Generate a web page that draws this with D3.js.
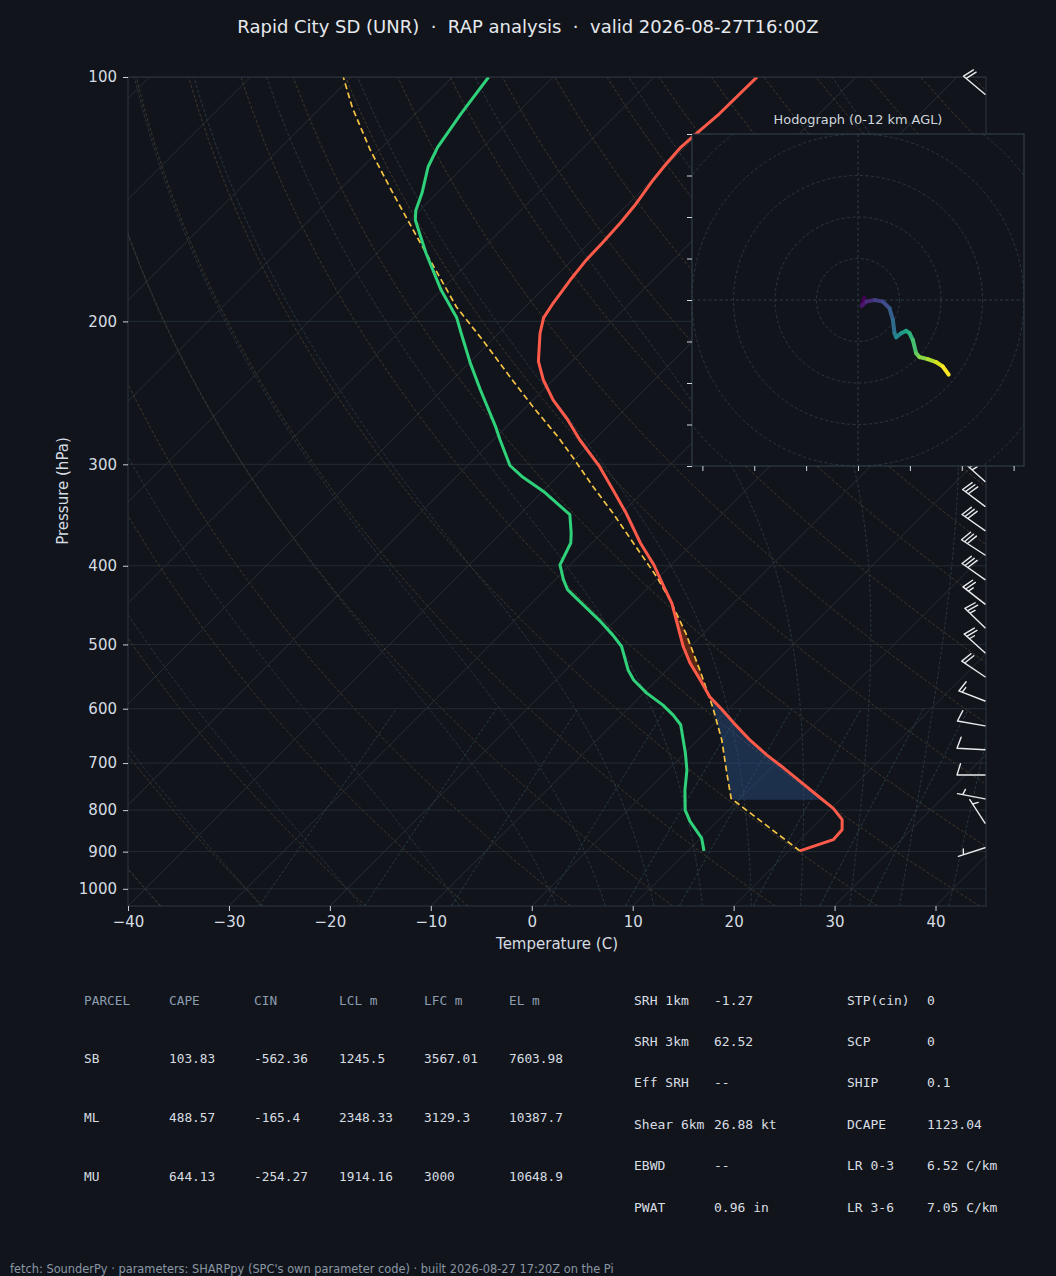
<!DOCTYPE html>
<html>
<head>
<meta charset="utf-8">
<script src="https://cdn.jsdelivr.net/npm/d3@7"></script>
<style>
  body { margin: 0; background: #11151b; }
  svg { display: block; }
</style>
</head>
<body>
<svg id="chart"></svg>
<script>
const WIDTH = 1056;
const HEIGHT = 1276;
const BG = "#11151b";

// ---- sounding ----
const tempP = [898, 870, 846, 822, 796, 773, 738, 710, 684, 656, 625, 599, 580, 553, 527, 503, 471, 445, 424, 399,
               375, 345, 323, 302, 280, 264, 250, 236, 224, 207, 198, 190, 178, 168, 160, 151, 144, 134, 128, 122, 117, 111, 100];
const tempC = [21.1, 23.3, 23.2, 22.2, 20.2, 17.9, 14.3, 11.3, 8.3, 5.2, 1.9, -0.9, -3.1, -5.7, -8.4, -10.7, -13.6, -16.1, -18.6, -21.7,
               -25.2, -29.5, -33.1, -36.8, -41.4, -44.7, -48.0, -51.0, -53.3, -55.9, -57.1, -57.6, -58.2, -58.6, -58.7, -58.9, -59.2, -59.9, -60.2, -60.4, -60.2, -59.9, -59.8];

const dewP = [898, 866, 826, 800, 756, 714, 681, 628, 611, 594, 574, 553, 538, 503, 487, 467, 439, 428, 416, 399, 375,
              365, 346, 324, 311, 301, 280, 270, 243, 225, 207, 198, 183, 165, 157, 150, 146, 139, 129, 122, 111, 100];
const dewC = [11.6, 10.1, 7.3, 5.7, 3.7, 1.9, 0.1, -3.2, -4.9, -6.9, -9.7, -12.3, -13.8, -16.8, -18.8, -21.6, -26.0, -27.8, -29.2, -31.0, -32.1,
              -33.0, -35.0, -39.9, -43.4, -45.8, -49.3, -51.0, -56.2, -59.9, -63.7, -65.7, -70.0, -75.1, -77.4, -79.5, -80.4, -81.5, -83.5, -84.5, -85.5, -86.4];

const parcelP = [898, 774, 721, 656, 597, 538, 484, 441, 413, 375, 345, 320, 294, 277, 255, 234, 211, 192, 159, 140, 123, 109, 100];
const parcelC = [21.1, 9.1, 6.2, 2.4, -1.8, -6.7, -11.8, -16.6, -20.2, -25.9, -30.8, -35.4, -40.4, -44.0, -49.3, -54.6, -60.9, -66.8, -77.1, -84.0, -90.9, -96.9, -100.8];

const lclP = 777;   // bottom of the CIN shade
const lfcP = 570;   // parcel / environment crossing
const capeTopP = 442;

// wind barbs (hPa, deg from, kt)
const barbP   = [890, 830, 775, 724, 674, 630, 587, 548, 512, 477, 446, 416, 388, 362, 338, 315, 105];
const barbDir = [252, 327, 281, 270, 273, 280, 291, 304, 312, 314, 308, 305, 303, 305, 307, 312, 310];
const barbSpd = [5, 5, 5, 10, 10, 10, 15, 20, 25, 25, 25, 30, 30, 30, 30, 35, 20];

// hodograph 0-12 km (kt)
const hodoU = [3.0, 1.8, 4.0, 8.0, 12.0, 15.2, 16.8, 17.6, 18.4, 20.8, 23.2, 24.8, 26.4, 28.0, 29.6, 33.6, 37.6, 40.8, 43.7];
const hodoV = [1.0, -2.8, -0.8, 0.0, -0.8, -4.0, -9.6, -16.0, -17.9, -16.0, -14.9, -16.0, -19.2, -25.6, -27.5, -28.5, -29.9, -32.0, -36.0];

// axes ticks
const pTicks = [100, 200, 300, 400, 500, 600, 700, 800, 900, 1000];
const tTicks = [-40, -30, -20, -10, 0, 10, 20, 30, 40];
const hodoXTicks = [-75, -50, -25, 0, 25, 50, 75];
const hodoYTicks = [-80, -60, -40, -20, 0, 20, 40, 60, 80];
const hodoRings = [20, 40, 60, 80, 100];

// parameter table
const tblHeader = ["PARCEL", "CAPE", "CIN", "LCL m", "LFC m", "EL m"];
const parcelNames = ["SB", "ML", "MU"];
const capeVals = [103.83, 488.57, 644.13];
const cinVals = [-562.36, -165.4, -254.27];
const lclVals = [1245.5, 2348.33, 1914.16];
const lfcVals = [3567.01, 3129.3, 3000];
const elVals = [7603.98, 10387.7, 10648.9];

const kinNames = ["SRH 1km", "SRH 3km", "Eff SRH", "Shear 6km", "EBWD", "PWAT"];
const kinVals = ["-1.27", "62.52", "--", "26.88 kt", "--", "0.96 in"];
const compNames = ["STP(cin)", "SCP", "SHIP", "DCAPE", "LR 0-3", "LR 3-6"];
const compVals = ["0", "0", "0.1", "1123.04", "6.52 C/km", "7.05 C/km"];

// ---- layout ----
const PLOT = {left: 128, right: 986, top: 77, bottom: 906};
const HODO = {left: 692, right: 1024, top: 134, bottom: 466};

var svg = d3.select("#chart")
    .attr("width", WIDTH)
    .attr("height", HEIGHT)
    .style("font-family", "DejaVu Sans");

svg.append("rect").attr("width", WIDTH).attr("height", HEIGHT).attr("fill", BG);

var defs = svg.append("defs");
defs.append("clipPath").attr("id", "plotClip").append("rect")
    .attr("x", PLOT.left).attr("y", PLOT.top)
    .attr("width", PLOT.right - PLOT.left).attr("height", PLOT.bottom - PLOT.top);
defs.append("clipPath").attr("id", "hodoClip").append("rect")
    .attr("x", HODO.left).attr("y", HODO.top)
    .attr("width", HODO.right - HODO.left).attr("height", HODO.bottom - HODO.top);

const x = d3.scaleLinear().domain([-40, 45]).range([PLOT.left, PLOT.right]);
const y = d3.scaleLog().domain([1050, 100]).range([PLOT.bottom, PLOT.top]);
const skewX = (t, p) => x(t) + (PLOT.bottom - y(p));

const line = d3.line()
    .x(d => skewX(d.t, d.p))
    .y(d => y(d.p));

const zipProfile = (ps, ts) => ps.map((p, i) => ({p: p, t: ts[i]}));

// ---- background reference lines ----
var bg = svg.append("g").attr("clip-path", "url(#plotClip)");

// pressure grid
bg.selectAll(".pgrid").data(pTicks).join("line")
    .attr("x1", PLOT.left).attr("x2", PLOT.right)
    .attr("y1", d => y(d)).attr("y2", d => y(d))
    .attr("stroke", "#262e38").attr("stroke-width", 0.9);

// isotherms
bg.selectAll(".iso").data(d3.range(-130, 50, 10)).join("line")
    .attr("x1", d => skewX(d, 1050)).attr("y1", y(1050))
    .attr("x2", d => skewX(d, 100)).attr("y2", y(100))
    .attr("stroke", "#2a3038").attr("stroke-width", 0.9);

// dry adiabats (theta referenced to 1000 hPa)
const KAPPA = 0.2857;
const pCurve = d3.range(1050, 99, -10);
d3.range(-40, 241, 10).forEach(t0 => {
    let pts = pCurve.map(p => ({p: p, t: (t0 + 273.15) * Math.pow(p / 1000, KAPPA) - 273.15}));
    bg.append("path")
        .attr("d", line(pts))
        .attr("fill", "none")
        .attr("stroke", "#453a2c")
        .attr("stroke-width", 0.9)
        .attr("stroke-dasharray", "3,2");
});

// moist adiabats
const RD = 287.04749, CPD = 1004.6662, LV = 2.50084e6, EPS = 0.6219569;
function moistSlope(T, p) {
    let es = 6.112 * Math.exp(17.67 * (T - 273.15) / (T - 29.65));
    let rs = EPS * es / Math.max(p - es, 1);
    return (RD * T + LV * rs) / (CPD + LV * LV * rs * EPS / (RD * T * T)) / p;
}
function integrateMoist(t0, pStart, pEnd, dp) {
    let T = t0 + 273.15, p = pStart, out = [{p: p, t: t0}];
    while ((dp < 0 && p + dp >= pEnd - 1e-6) || (dp > 0 && p + dp <= pEnd + 1e-6)) {
        let k1 = moistSlope(T, p);
        let k2 = moistSlope(T + k1 * dp / 2, p + dp / 2);
        let k3 = moistSlope(T + k2 * dp / 2, p + dp / 2);
        let k4 = moistSlope(T + k3 * dp, p + dp);
        T += dp * (k1 + 2 * k2 + 2 * k3 + k4) / 6;
        p += dp;
        out.push({p: p, t: T - 273.15});
    }
    return out;
}
const moistT0 = d3.range(-40, 0, 10).concat(d3.range(0, 96, 5));
moistT0.forEach(t0 => {
    let up = integrateMoist(t0, 1000, 100, -5);
    let down = integrateMoist(t0, 1000, 1050, 5).reverse();
    bg.append("path")
        .attr("d", line(down.concat(up.slice(1))))
        .attr("fill", "none")
        .attr("stroke", "#2c3844")
        .attr("stroke-width", 0.9)
        .attr("stroke-dasharray", "3,2");
});

// mixing ratio lines
const mixW = [0.0004, 0.001, 0.002, 0.004, 0.007, 0.01, 0.016, 0.024, 0.032];
mixW.forEach(w => {
    let pts = d3.range(1050, 599, -10).map(p => {
        let e = p * w / (EPS + w);
        let l = Math.log(e / 6.112);
        return {p: p, t: 243.5 * l / (17.67 - l)};
    });
    bg.append("path")
        .attr("d", line(pts))
        .attr("fill", "none")
        .attr("stroke", "#28404a")
        .attr("stroke-width", 0.9)
        .attr("stroke-dasharray", "3,2");
});

// ---- CIN / CAPE shading ----
function interpT(ps, ts, p) {
    for (let i = 0; i < ps.length - 1; i++) {
        if (p <= ps[i] && p >= ps[i + 1]) {
            let f = Math.log(ps[i] / p) / Math.log(ps[i] / ps[i + 1]);
            return ts[i] + f * (ts[i + 1] - ts[i]);
        }
    }
    return ts[ts.length - 1];
}
function shadeBetween(pBot, pTop, color, opacity) {
    let ps = d3.range(pBot, pTop, -2).concat([pTop]);
    let area = d3.area()
        .y(p => y(p))
        .x0(p => skewX(interpT(parcelP, parcelC, p), p))
        .x1(p => skewX(interpT(tempP, tempC, p), p));
    svg.append("path")
        .attr("clip-path", "url(#plotClip)")
        .attr("d", area(ps))
        .attr("fill", color)
        .attr("fill-opacity", opacity);
}
shadeBetween(lclP, lfcP, "#2f5a9a", 0.38);
shadeBetween(lfcP, capeTopP, "#c2410c", 0.42);

// ---- profiles ----
var prof = svg.append("g").attr("clip-path", "url(#plotClip)");
prof.append("path")
    .attr("d", line(zipProfile(parcelP, parcelC)))
    .attr("fill", "none")
    .attr("stroke", "#f6c344")
    .attr("stroke-width", 1.7)
    .attr("stroke-dasharray", "6,3.5");
prof.append("path")
    .attr("d", line(zipProfile(dewP, dewC)))
    .attr("fill", "none")
    .attr("stroke", "#2fd27a")
    .attr("stroke-width", 3)
    .attr("stroke-linejoin", "round");
prof.append("path")
    .attr("d", line(zipProfile(tempP, tempC)))
    .attr("fill", "none")
    .attr("stroke", "#ff5a4a")
    .attr("stroke-width", 3)
    .attr("stroke-linejoin", "round");

// ---- axes ----
const AX_COLOR = "#2d3642";
const TXT = "#d6dce3";

svg.append("rect")
    .attr("x", PLOT.left).attr("y", PLOT.top)
    .attr("width", PLOT.right - PLOT.left).attr("height", PLOT.bottom - PLOT.top)
    .attr("fill", "none").attr("stroke", AX_COLOR).attr("stroke-width", 1);

var yAxis = svg.append("g")
    .attr("transform", `translate(${PLOT.left},0)`)
    .call(d3.axisLeft(y).tickValues(pTicks).tickFormat(d3.format("d")).tickSize(5).tickPadding(6).tickSizeOuter(0));
var xAxis = svg.append("g")
    .attr("transform", `translate(0,${PLOT.bottom})`)
    .call(d3.axisBottom(x).tickValues(tTicks).tickSize(5).tickPadding(5).tickSizeOuter(0));
[xAxis, yAxis].forEach(a => {
    a.select(".domain").remove();
    a.selectAll("line").attr("stroke", "#c9d1d9");
    a.selectAll("text")
        .attr("fill", TXT)
        .style("font-family", "DejaVu Sans")
        .style("font-size", "15px");
});

svg.append("text")
    .attr("transform", "translate(68,491) rotate(-90)")
    .attr("text-anchor", "middle")
    .style("font-size", "15px")
    .attr("fill", TXT)
    .text("Pressure (hPa)");
svg.append("text")
    .attr("x", 557).attr("y", 949)
    .attr("text-anchor", "middle")
    .style("font-size", "15px")
    .attr("fill", TXT)
    .text("Temperature (C)");

svg.append("text")
    .attr("x", WIDTH / 2).attr("y", 33)
    .attr("text-anchor", "middle")
    .style("font-size", "18px")
    .style("white-space", "pre")
    .attr("fill", "#e6e9ed")
    .text("Rapid City SD (UNR)  \u00b7  RAP analysis  \u00b7  valid 2026-08-27T16:00Z");

// ---- wind barbs at right edge ----
var barbs = svg.append("g")
    .attr("stroke", "#e8eaed")
    .attr("stroke-width", 1.4)
    .attr("fill", "none")
    .attr("stroke-linecap", "round");

function drawBarb(g, x0, y0, dirDeg, spd) {
    const L = 28;
    let rad = dirDeg * Math.PI / 180;
    let dx = Math.sin(rad), dy = -Math.cos(rad);
    let px = -dy, py = dx;
    let tipX = x0 + L * dx, tipY = y0 + L * dy;
    const h = 0.4 * L, w = 0.25 * L, sp = 0.125 * L;
    let s = Math.round(spd / 5) * 5;
    let nFlag = Math.floor(s / 50); s -= nFlag * 50;
    let nFull = Math.floor(s / 10); s -= nFull * 10;
    let nHalf = s >= 5 ? 1 : 0;
    let d = `M${x0},${y0}L${tipX},${tipY}`;
    let off = 0;
    for (let i = 0; i < nFlag; i++) {
        let ax = tipX - off * dx, ay = tipY - off * dy;
        d += `M${ax},${ay}L${ax + h * px - (w / 2) * dx},${ay + h * py - (w / 2) * dy}L${ax - w * dx},${ay - w * dy}Z`;
        off += w + sp;
    }
    for (let i = 0; i < nFull; i++) {
        let ax = tipX - off * dx, ay = tipY - off * dy;
        d += `M${ax},${ay}L${ax + h * px - (w / 2) * dx},${ay + h * py - (w / 2) * dy}`;
        off += sp;
    }
    if (nHalf) {
        if (nFlag === 0 && nFull === 0) off += 1.5 * sp;
        let ax = tipX - off * dx, ay = tipY - off * dy;
        d += `M${ax},${ay}L${ax + (h / 2) * px - (w / 4) * dx},${ay + (h / 2) * py - (w / 4) * dy}`;
    }
    g.append("path").attr("d", d);
}
barbP.forEach((p, i) => drawBarb(barbs, PLOT.right - 1, y(p), barbDir[i], barbSpd[i]));

// ---- hodograph inset ----
const hx = d3.scaleLinear().domain([-80, 80]).range([HODO.left, HODO.right]);
const hy = d3.scaleLinear().domain([-80, 80]).range([HODO.bottom, HODO.top]);

var hodo = svg.append("g");
hodo.append("rect")
    .attr("x", HODO.left).attr("y", HODO.top)
    .attr("width", HODO.right - HODO.left).attr("height", HODO.bottom - HODO.top)
    .attr("fill", BG);

var hgrid = hodo.append("g").attr("clip-path", "url(#hodoClip)");
hgrid.selectAll("circle").data(hodoRings).join("circle")
    .attr("cx", hx(0)).attr("cy", hy(0))
    .attr("r", d => hx(d) - hx(0))
    .attr("fill", "none")
    .attr("stroke", "#2f3a47")
    .attr("stroke-width", 0.9)
    .attr("stroke-dasharray", "3,2.5");
hgrid.append("line")
    .attr("x1", hx(0)).attr("x2", hx(0)).attr("y1", HODO.top).attr("y2", HODO.bottom)
    .attr("stroke", "#2f3a47").attr("stroke-dasharray", "3,2.5");
hgrid.append("line")
    .attr("x1", HODO.left).attr("x2", HODO.right).attr("y1", hy(0)).attr("y2", hy(0))
    .attr("stroke", "#2f3a47").attr("stroke-dasharray", "3,2.5");

const hodoPts = hodoU.map((u, i) => ({u: u, v: hodoV[i]}));
for (let i = 0; i < hodoPts.length - 1; i++) {
    hgrid.append("line")
        .attr("x1", hx(hodoPts[i].u)).attr("y1", hy(hodoPts[i].v))
        .attr("x2", hx(hodoPts[i + 1].u)).attr("y2", hy(hodoPts[i + 1].v))
        .attr("stroke", d3.interpolateViridis(i / (hodoPts.length - 2)))
        .attr("stroke-width", 4)
        .attr("stroke-linecap", "round");
}

hodo.append("rect")
    .attr("x", HODO.left).attr("y", HODO.top)
    .attr("width", HODO.right - HODO.left).attr("height", HODO.bottom - HODO.top)
    .attr("fill", "none").attr("stroke", "#36424f").attr("stroke-width", 1);

var hxAxis = hodo.append("g")
    .attr("transform", `translate(0,${HODO.bottom})`)
    .call(d3.axisBottom(hx).tickValues(hodoXTicks).tickFormat("").tickSize(5).tickSizeOuter(0));
var hyAxis = hodo.append("g")
    .attr("transform", `translate(${HODO.left},0)`)
    .call(d3.axisLeft(hy).tickValues(hodoYTicks).tickFormat("").tickSize(5).tickSizeOuter(0));
[hxAxis, hyAxis].forEach(a => {
    a.select(".domain").remove();
    a.selectAll("line").attr("stroke", "#d0d6dd");
});

hodo.append("text")
    .attr("x", (HODO.left + HODO.right) / 2).attr("y", 124)
    .attr("text-anchor", "middle")
    .style("font-size", "12.9px")
    .attr("fill", "#d0d6dd")
    .text("Hodograph (0-12 km AGL)");

// ---- parameter table ----
var tbl = svg.append("g")
    .style("font-family", "DejaVu Sans Mono")
    .style("font-size", "12.8px");
const colX = [84, 169, 254, 339, 424, 509];
tblHeader.forEach((h, i) => {
    tbl.append("text").attr("x", colX[i]).attr("y", 1004.5).attr("fill", "#8d9db1").text(h);
});
const rowY = [1062.5, 1121.5, 1180.5];
parcelNames.forEach((name, r) => {
    let vals = [name, capeVals[r], cinVals[r], lclVals[r], lfcVals[r], elVals[r]];
    vals.forEach((v, i) => {
        tbl.append("text").attr("x", colX[i]).attr("y", rowY[r]).attr("fill", "#d8dde3").text(String(v));
    });
});

var tbl2 = svg.append("g")
    .style("font-family", "DejaVu Sans Mono")
    .style("font-size", "13px")
    .attr("fill", "#d8dde3");
kinNames.forEach((n, i) => {
    let yy = 1004.5 + i * 41.4;
    tbl2.append("text").attr("x", 634).attr("y", yy).text(n);
    tbl2.append("text").attr("x", 714).attr("y", yy).text(kinVals[i]);
    tbl2.append("text").attr("x", 847).attr("y", yy).text(compNames[i]);
    tbl2.append("text").attr("x", 927).attr("y", yy).text(compVals[i]);
});

svg.append("text")
    .attr("x", 10).attr("y", 1273)
    .style("font-size", "11.4px")
    .attr("fill", "#8a96a4")
    .text("fetch: SounderPy \u00b7 parameters: SHARPpy (SPC's own parameter code) \u00b7 built 2026-08-27 17:20Z on the Pi");
</script>
</body>
</html>
